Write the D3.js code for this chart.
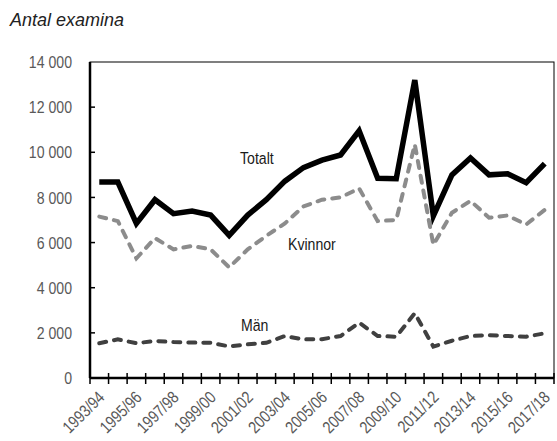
<!DOCTYPE html>
<html>
<head>
<meta charset="utf-8">
<script src="https://cdn.jsdelivr.net/npm/d3@7"></script>
<style>
  body { margin: 0; background: #fff; }
  .narrow { font-family: "Liberation Sans", Arial, sans-serif; font-size: 17px; }
</style>
</head>
<body>
<div id="chart"></div>
<script>
// Läsåret / antal examina
const years = ['1993/94', '1994/95', '1995/96', '1996/97', '1997/98', '1998/99', '1999/00',
  '2000/01', '2001/02', '2002/03', '2003/04', '2004/05', '2005/06', '2006/07', '2007/08',
  '2008/09', '2009/10', '2010/11', '2011/12', '2012/13', '2013/14', '2014/15', '2015/16',
  '2016/17', '2017/18'];

const totalt = [8680, 8680, 6850, 7900, 7280, 7400, 7220, 6320, 7220, 7900, 8720, 9320, 9650,
  9880, 10950, 8850, 8830, 13200, 7180, 9000, 9750, 9000, 9050, 8650, 9500];
const kvinnor = [7150, 6950, 5300, 6200, 5700, 5850, 5700, 4900, 5700, 6300, 6850, 7600, 7900,
  8000, 8400, 6950, 7000, 10350, 5900, 7320, 7850, 7100, 7200, 6800, 7450];
const man = [1540, 1710, 1540, 1640, 1590, 1570, 1560, 1400, 1490, 1560, 1860, 1710, 1720,
  1860, 2450, 1860, 1830, 2870, 1390, 1650, 1860, 1900, 1860, 1830, 1980];

const yTicks = [0, 2000, 4000, 6000, 8000, 10000, 12000, 14000];

const W = 557, H = 441;
const margin = { top: 62, left: 90, right: 3, bottom: 63 };
const squeeze = 'scale(0.83,1)'; // smal (condensed) stil

const svg = d3.select('#chart').append('svg')
  .attr('width', W)
  .attr('height', H);

const x = d3.scaleBand()
  .domain(years)
  .range([margin.left, W - margin.right]);
const y = d3.scaleLinear()
  .domain([0, 14000])
  .range([H - margin.bottom, margin.top]);

const fmt = d => d3.format(',')(d).replace(/,/g, ' ');

// Title
svg.append('text')
  .attr('x', 10)
  .attr('y', 26)
  .attr('font-family', 'Liberation Sans, Arial, sans-serif')
  .attr('font-style', 'italic')
  .attr('font-size', 18)
  .attr('fill', '#222')
  .text('Antal examina');

// Frame (top + right)
svg.append('rect')
  .attr('x', margin.left)
  .attr('y', margin.top)
  .attr('width', W - margin.right - margin.left)
  .attr('height', H - margin.bottom - margin.top)
  .attr('fill', 'none')
  .attr('stroke', '#000')
  .attr('stroke-width', 1);

// Y axis
svg.append('g')
  .selectAll('line')
  .data(yTicks.slice(1, -1))
  .join('line')
  .attr('x1', margin.left)
  .attr('x2', margin.left + 5)
  .attr('y1', d => y(d))
  .attr('y2', d => y(d))
  .attr('stroke', '#000')
  .attr('stroke-width', 1.5);

svg.append('g')
  .attr('class', 'narrow')
  .selectAll('text')
  .data(yTicks)
  .join('text')
  .attr('transform', d => `translate(72,${y(d)}) ${squeeze}`)
  .attr('dy', '0.36em')
  .attr('text-anchor', 'end')
  .attr('fill', '#595959')
  .text(fmt);

svg.append('line')
  .attr('x1', margin.left).attr('x2', margin.left)
  .attr('y1', margin.top).attr('y2', y(0))
  .attr('stroke', '#000')
  .attr('stroke-width', 2.5);

// X axis
const bounds = years.map(d => x(d)).concat([x.range()[1]]);
svg.append('g')
  .selectAll('line')
  .data(bounds)
  .join('line')
  .attr('x1', d => d).attr('x2', d => d)
  .attr('y1', y(0) - 5).attr('y2', y(0) + 6)
  .attr('stroke', '#000')
  .attr('stroke-width', 1.5);

svg.append('line')
  .attr('x1', margin.left).attr('x2', x.range()[1])
  .attr('y1', y(0)).attr('y2', y(0))
  .attr('stroke', '#000')
  .attr('stroke-width', 2.5);

svg.append('g')
  .attr('class', 'narrow')
  .selectAll('text')
  .data(years.filter((d, i) => i % 2 === 0))
  .join('text')
  .attr('transform', d => `translate(${x(d) + x.bandwidth() / 2 + 2},${y(0) + 16}) rotate(-45) ${squeeze}`)
  .attr('text-anchor', 'end')
  .attr('dy', '0.36em')
  .attr('fill', '#595959')
  .text(d => d);

// Lines
const line = d3.line()
  .x((d, i) => x(years[i]) + x.bandwidth() / 2)
  .y(d => y(d));

svg.append('path')
  .datum(kvinnor)
  .attr('d', line)
  .attr('fill', 'none')
  .attr('stroke', '#8c8c8c')
  .attr('stroke-width', 4)
  .attr('stroke-linecap', 'round')
  .attr('stroke-dasharray', '7,8');

svg.append('path')
  .datum(man)
  .attr('d', line)
  .attr('fill', 'none')
  .attr('stroke', '#404040')
  .attr('stroke-width', 4)
  .attr('stroke-linecap', 'round')
  .attr('stroke-dasharray', '7,8');

svg.append('path')
  .datum(totalt)
  .attr('d', line)
  .attr('fill', 'none')
  .attr('stroke', '#000')
  .attr('stroke-width', 5.5);

// Series labels
const labels = [
  { text: 'Totalt', x: 240, y: 164 },
  { text: 'Kvinnor', x: 288, y: 250 },
  { text: 'Män', x: 241, y: 331 }
];
svg.append('g')
  .attr('class', 'narrow')
  .selectAll('text')
  .data(labels)
  .join('text')
  .attr('transform', d => `translate(${d.x},${d.y}) ${squeeze}`)
  .attr('fill', '#1a1a1a')
  .text(d => d.text);
</script>
</body>
</html>
